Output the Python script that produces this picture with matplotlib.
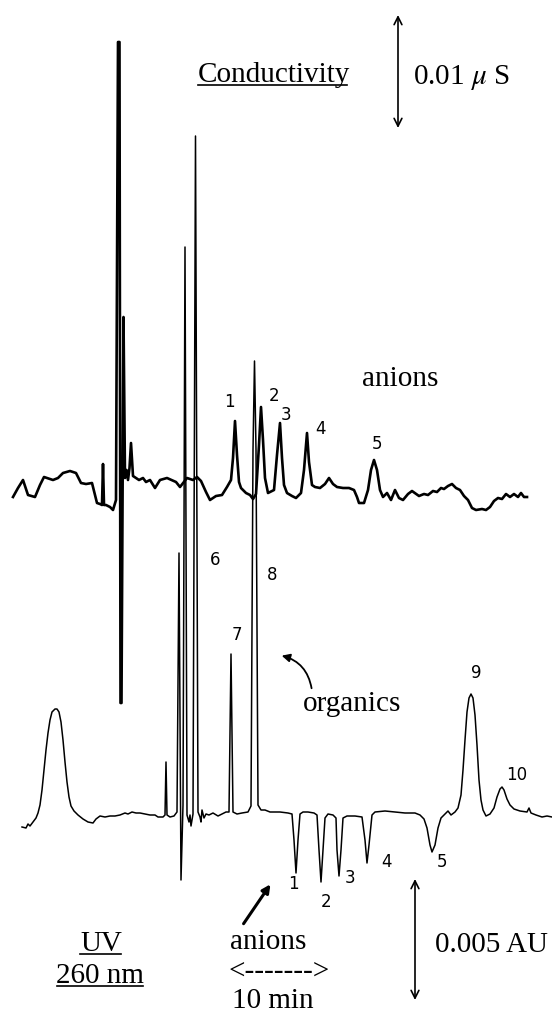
"""Redraw of a dual-detector ion chromatogram (conductivity over UV 260 nm).

Coordinates are in picture pixels (x to the right, y downwards) so that the
traces and labels can be read straight off the scanned figure.
"""
import matplotlib
matplotlib.use('Agg')
import matplotlib.pyplot as plt
from matplotlib.patches import FancyArrowPatch

plt.rcParams['mathtext.fontset'] = 'stix'

SERIF = 'Liberation Serif'
SANS = 'DejaVu Sans'

# ---------------------------------------------------------------------------
# Conductivity trace (thick, upper)
# ---------------------------------------------------------------------------
cond_x = [13, 18, 23, 28, 35, 40, 44, 53, 58, 63, 70, 76, 81, 86, 92, 97, 100,
          102, 103, 104, 106, 110, 113, 116, 118, 119.5, 120.5, 121.5, 122.5,
          123.5, 125, 126.5, 128, 129.5, 131, 133, 136, 139, 143, 146, 150,
          155, 160, 167, 176, 180, 187, 193, 197, 201, 206, 210, 216, 222, 227,
          231, 233, 235, 237, 239, 241, 246, 250, 253, 256, 259, 261, 263, 265,
          268, 274, 277, 280, 282, 284, 287, 292, 296, 301, 304, 307, 309, 312,
          315, 320, 325, 329, 333, 337, 343, 349, 354, 357, 359, 364, 368, 371,
          374, 377, 380, 383, 387, 391, 395, 399, 403, 408, 412, 419, 424, 428,
          433, 437, 441, 444, 448, 452, 456, 460, 464, 468, 472, 476, 482, 486,
          490, 494, 498, 502, 506, 510, 514, 518, 521, 524, 527]
cond_y = [497, 488, 480, 495, 497, 485, 477, 480, 478, 473, 471, 473, 483, 484,
          483, 503, 504, 505, 464, 505, 505, 507, 510, 500, 42, 42, 703, 703,
          508, 317, 478, 470, 480, 468, 443, 476, 478, 480, 478, 482, 480, 488,
          480, 478, 482, 487, 478, 480, 477, 481, 492, 500, 496, 495, 487, 480,
          458, 421, 455, 482, 488, 493, 495, 499, 494, 445, 407, 440, 478, 493,
          490, 455, 423, 458, 485, 493, 496, 498, 493, 470, 433, 462, 485, 487,
          488, 484, 478, 484, 487, 488, 488, 490, 497, 503, 503, 490, 470, 460,
          470, 490, 497, 493, 500, 490, 498, 500, 494, 491, 496, 494, 495, 491,
          492, 488, 489, 486, 484, 488, 490, 496, 500, 508, 510, 509, 510, 507,
          501, 498, 499, 494, 497, 494, 497, 493, 497, 497]

cond_peak_labels = ['1', '2', '3', '4', '5']
cond_label_x = [229, 274, 286, 320, 377]
cond_label_y = [402, 396, 415, 429, 444]

# ---------------------------------------------------------------------------
# UV 260 nm trace (thin, lower)
# ---------------------------------------------------------------------------
uv_x = [22, 26, 28, 30, 33, 36, 38, 40, 42, 44, 46, 48, 50, 52, 55, 57, 59, 61,
        63, 65, 67, 69, 71, 74, 78, 83, 88, 93, 96, 100, 105, 110, 115, 120,
        125, 128, 132, 136, 140, 145, 150, 155, 158, 163, 165, 166, 167, 170,
        174, 177, 179, 181, 183, 185, 187, 189, 190, 191, 193, 195.5, 198, 200,
        201, 202, 204, 206, 209, 213, 218, 222, 226, 229, 231, 233, 237, 242,
        248, 251, 253, 254.5, 256, 258, 261, 265, 270, 280, 288, 292, 294, 296,
        298, 300, 303, 308, 314, 317, 319, 321, 323, 325, 328, 333, 336, 337,
        339, 341, 343, 347, 355, 362, 365, 367, 369, 372, 375, 385, 395, 405,
        415, 420, 424, 427, 430, 432, 435, 438, 441, 444, 448, 451, 455, 458,
        461, 463, 465, 467, 469, 471, 473, 475, 477, 479, 481, 483, 486, 490,
        494, 497, 500, 502, 504, 507, 510, 514, 520, 527, 529, 531, 536, 542,
        547, 552]
uv_y = [827, 828, 824, 826, 822, 818, 813, 805, 790, 770, 750, 733, 720, 712,
        709, 709, 712, 722, 740, 762, 782, 797, 806, 811, 815, 819, 822, 823,
        819, 816, 817, 816, 816, 815, 813, 814, 812, 813, 813, 814, 815, 815,
        817, 817, 815, 762, 815, 817, 816, 812, 553, 880, 805, 247, 815, 822,
        815, 826, 814, 136, 812, 817, 822, 810, 818, 814, 815, 813, 816, 814,
        812, 812, 654, 812, 814, 813, 812, 806, 450, 361, 450, 805, 810, 810,
        812, 812, 813, 814, 840, 873, 840, 814, 812, 812, 813, 815, 850, 882,
        850, 818, 814, 815, 818, 850, 876, 850, 818, 816, 816, 817, 840, 863,
        845, 815, 812, 811, 812, 813, 813, 815, 819, 828, 845, 852, 845, 828,
        818, 815, 811, 815, 812, 808, 795, 770, 740, 712, 698, 694, 698, 715,
        745, 780, 800, 810, 816, 814, 808, 797, 789, 787, 790, 799, 805, 809,
        811, 812, 808, 813, 815, 817, 816, 817]

uv_peak_labels = ['6', '7', '8', '9', '10', '1', '2', '3', '4', '5']
uv_label_x = [215, 237, 272, 476, 517, 293, 326, 350, 386, 442]
uv_label_y = [560, 635, 575, 673, 775, 884, 902, 878, 862, 862]

# ---------------------------------------------------------------------------
# Figure
# ---------------------------------------------------------------------------
W, H = 552, 1015
fig = plt.figure(figsize=(W / 100, H / 100), dpi=100)
ax = fig.add_axes([0, 0, 1, 1])
ax.set_xlim(0, W)
ax.set_ylim(H, 0)
ax.axis('off')

ax.plot(uv_x, uv_y, color='black', lw=1.1, solid_joinstyle='round')
ax.plot(cond_x, cond_y, color='black', lw=1.9, solid_joinstyle='round')

for txt, x, y in zip(cond_peak_labels, cond_label_x, cond_label_y):
    ax.text(x, y, txt, fontsize=12, family=SANS, ha='center', va='center')
for txt, x, y in zip(uv_peak_labels, uv_label_x, uv_label_y):
    ax.text(x, y, txt, fontsize=12, family=SANS, ha='center', va='center')

# serif annotations
big = 21
ax.text(198, 82, 'Conductivity', fontsize=big, family=SERIF, va='baseline')
ax.plot([198, 347], [85, 85], color='black', lw=1.2)
ax.text(413, 84, r'0.01 $\mu$ S', fontsize=big, family=SERIF, va='baseline')
ax.text(362, 386, 'anions', fontsize=big, family=SERIF, va='baseline')
ax.text(303, 711, 'organics', fontsize=big, family=SERIF, va='baseline')

ax.text(101, 951, 'UV', fontsize=big, family=SERIF, ha='center', va='baseline')
ax.plot([80, 121], [954, 954], color='black', lw=1.2)
ax.text(100, 983, '260 nm', fontsize=big, family=SERIF, ha='center', va='baseline')
ax.plot([57, 143], [986, 986], color='black', lw=1.2)
ax.text(230, 949, 'anions', fontsize=big, family=SERIF, va='baseline')
ax.text(229, 972, '<------->', fontsize=big, family=SERIF, va='center')
ax.text(232, 1008, '10 min', fontsize=big, family=SERIF, va='baseline')
ax.text(435, 952, '0.005 AU', fontsize=big, family=SERIF, va='baseline')

# scale bars
for x, y0, y1 in [(398, 15, 128), (415, 879, 1000)]:
    ax.annotate('', xy=(x, y0), xytext=(x, y1),
                arrowprops=dict(arrowstyle='<->', lw=1.2, color='black',
                                mutation_scale=14, shrinkA=0, shrinkB=0))

# pointer arrows
ax.add_patch(FancyArrowPatch((312, 691), (279, 655),
                             connectionstyle='arc3,rad=0.35',
                             arrowstyle='-|>', mutation_scale=12,
                             lw=1.3, color='black'))
ax.add_patch(FancyArrowPatch((242, 926), (272, 882),
                             arrowstyle='-|>', mutation_scale=12,
                             lw=2.2, color='black'))

fig.savefig('out.png', dpi=100)
